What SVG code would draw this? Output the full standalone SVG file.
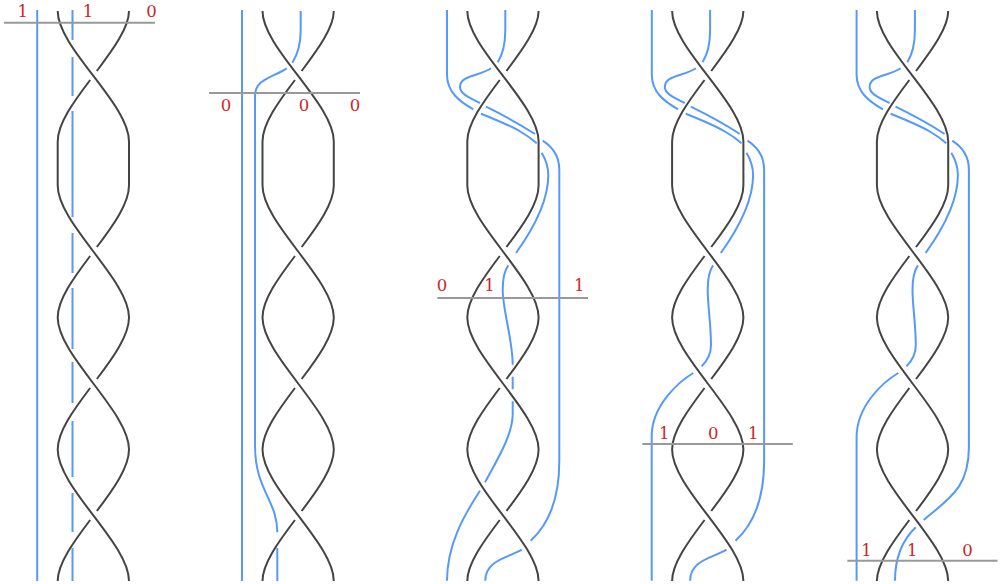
<svg xmlns="http://www.w3.org/2000/svg" width="1000" height="584" viewBox="0 0 1000 584">
<style>
.d{fill:none;stroke:#444;stroke-width:2}
.b{fill:none;stroke:#5599fb;stroke-width:2}
.g{fill:none;stroke:#999;stroke-width:2}
text{font-family:"DejaVu Serif","Liberation Serif",serif;font-size:16.5px;fill:#cc1f26;text-anchor:middle}
</style>
<defs>
<g id="braid">
<path class="d" d="M57.7,11C57.7,48 129,103.5 129,141.5V185.5C129,203.3 113.5,225 96.85,247M90.15,256C73.5,278 57.7,299.7 57.7,317.5C57.7,355.5 129,411.5 129,449.5C129,467.3 113.5,489 96.85,511M90.15,520C73.5,542 57.7,563.7 57.7,581"/>
<path class="d" d="M129,11C129,27.3 113.5,49 96.85,71M90.15,80C73.5,102 57.7,123.7 57.7,141.5V185.5C57.7,223.5 129,279.5 129,317.5C129,335.3 113.5,357 96.85,379M90.15,388C73.5,410 57.7,431.7 57.7,449.5C57.7,487.5 129,543.5 129,581"/>
</g>
<g id="blueTop">
<path class="b" d="M447,10V75C447,92 460,102 473.3,109.3M481,113.7C498,120.5 513,127 521,132C527,135.5 532,139 536.7,143.3M541.7,152.7C546,160 548.3,166 548.3,175C548.3,200 534,228 516,253"/>
<path class="b" d="M505.3,10V30C505.3,45 503,54 497.7,62.3M491,68.3C480,76 460,75 460,87C460,94 470,98 480,103M486,106.7C503,115 518,123 535,134M542.7,140.7C552,147 559.3,155 559.3,170"/>
</g>
<path id="blueMid" class="b" d="M508.3,265.3C504.2,271 502.9,278 502.9,290C502.9,305 506.2,325 506.2,345C506.2,354 502.2,361 496.9,366.3"/>
<path id="blueRight" class="b" d="M559.3,170V461C559.3,500 548,525 530.7,540.7M521.7,549.7C508,558 485.3,560 485.3,580.7"/>
</defs>
<g id="panel-1">
<path class="b" d="M37.2,10V581"/>
<path class="b" d="M72.5,10V40M72.5,57V96M72.5,111V217M72.5,233V273M72.5,288V349M72.5,362V403M72.5,421V477M72.5,493V532M72.5,548V581"/>
<use href="#braid"/>
<path class="g" d="M4,22.7H155"/>
<text x="22.7" y="17.3">1</text><text x="88" y="17.3">1</text><text x="151.5" y="17.3">0</text>
</g>
<g id="panel-2">
<path class="b" d="M242,10V581"/>
<path class="b" d="M300.7,11V30C300.7,45 298,54 292.3,62.7M286.7,68.3C272,78 255,79 255,96V445.7C255,490 277.3,500 277.3,532.3M277.3,548V581"/>
<use href="#braid" x="204.8"/>
<path class="g" d="M209,93H360"/>
<text x="226" y="110.5">0</text><text x="304" y="110.5">0</text><text x="355" y="110.5">0</text>
</g>
<g id="panel-3">
<use href="#blueTop"/>
<use href="#blueRight"/>
<path class="b" d="M508.3,265.3C504,271 502.7,278 502.7,290C502.7,310 512.7,340 512.7,364.7M512.7,376.7V389.3M512.7,401.3V414C512.7,435 497,460 485,482.3M480,490.7C464,515 447,545 447,580.7"/>
<use href="#braid" x="409.6"/>
<path class="g" d="M437.3,298H588"/>
<text x="442" y="291.3">0</text><text x="489.5" y="291.3">1</text><text x="579.3" y="291.3">1</text>
</g>
<g id="panel-4" transform="translate(204.8 0)">
<use href="#blueTop"/>
<use href="#blueRight"/>
<use href="#blueMid"/>
<path class="b" d="M488.5,373C475,381 446.9,405 446.9,436V580.7"/>
<use href="#braid" x="409.6"/>
<path class="g" d="M437.5,444H588"/>
<text x="459.5" y="439.3">1</text><text x="508.5" y="439.3">0</text><text x="548.5" y="439.3">1</text>
</g>
<g id="panel-5" transform="translate(409.6 0)">
<use href="#blueTop"/>
<use href="#blueMid"/>
<path class="b" d="M559.3,170V447C559.3,488 540,498 514.1,520M506.1,527.3C495,538 485.4,555 485.4,580.7"/>
<path class="b" d="M488.7,373C475,381 447,405 447,437V580.7"/>
<use href="#braid" x="409.6"/>
<path class="g" d="M437.7,560.7H588"/>
<text x="457" y="556">1</text><text x="502.7" y="556">1</text><text x="558" y="556">0</text>
</g>
</svg>
